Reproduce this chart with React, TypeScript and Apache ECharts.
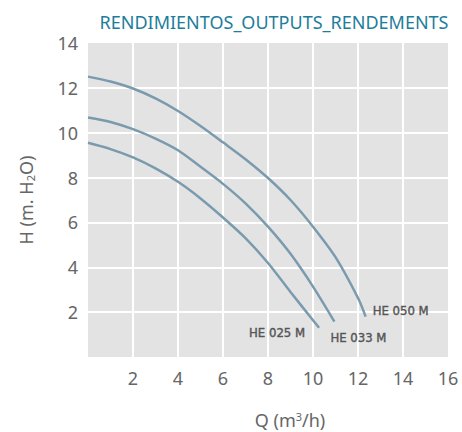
import React, { useEffect, useRef } from "react";
import * as echarts from "echarts";

const title = "RENDIMIENTOS_OUTPUTS_RENDEMENTS";
const xTicks = [0, 2, 4, 6, 8, 10, 12, 14, 16];
const yTicks = [0, 2, 4, 6, 8, 10, 12, 14];

const he050: [number, number][] = [
  [0, 12.5], [1, 12.28], [2, 11.97], [3, 11.53], [4, 10.97], [5, 10.3], [6, 9.57],
  [7, 8.82], [8, 7.98], [9, 7.0], [10, 5.81], [11, 4.45], [12, 2.63], [12.34, 1.8],
];
const he033: [number, number][] = [
  [0, 10.68], [1, 10.48], [2, 10.16], [3, 9.74], [4, 9.22], [5, 8.48], [6, 7.72],
  [7, 6.85], [8, 5.81], [9, 4.6], [10, 3.14], [10.95, 1.58],
];
const he025: [number, number][] = [
  [0, 9.55], [1, 9.27], [2, 8.9], [3, 8.41], [4, 7.81], [5, 7.07], [6, 6.22],
  [7, 5.3], [8, 4.19], [9, 2.9], [10, 1.64], [10.27, 1.3],
];
const seriesNames = ["HE 050 M", "HE 033 M", "HE 025 M"];

const LINE = "#7a9bad";
const LABEL_FONT = "'Liberation Sans Narrow', 'DejaVu Sans Condensed', Roboto, sans-serif";

export default function App() {
  const ref = useRef<HTMLDivElement>(null);
  useEffect(() => {
    if (!ref.current) return;
    const chart = echarts.init(ref.current, undefined, { renderer: "svg" });
    const fontFamily = "'Noto Sans', sans-serif";
    const mkSeries = (name: string, data: [number, number][], align: string, offset: number[]) => ({
      type: "line",
      name,
      data,
      smooth: 0.3,
      showSymbol: false,
      lineStyle: { color: LINE, width: 2.5 },
      z: 3,
      endLabel: {
        show: true,
        formatter: name,
        distance: 0,
        align,
        verticalAlign: "middle",
        offset,
        color: "#555",
        fontSize: 13,
        fontFamily: LABEL_FONT,
        textBorderColor: "#555",
        textBorderWidth: 0.4,
      },
    });
    chart.setOption({
      animation: false,
      backgroundColor: "#fff",
      title: {
        text: title,
        left: 269,
        textAlign: "center",
        top: 8,
        textStyle: { color: "#1e7d9b", fontSize: 18, fontWeight: "normal", fontFamily },
      },
      grid: {
        left: 88,
        right: 14,
        top: 43,
        bottom: 75,
        show: true,
        backgroundColor: "#e3e3e3",
        borderWidth: 0,
      },
      xAxis: {
        type: "value",
        min: xTicks[0],
        max: xTicks[xTicks.length - 1],
        interval: 2,
        axisLine: { show: false },
        axisTick: { show: false },
        axisLabel: {
          color: "#666",
          fontSize: 18,
          fontFamily,
          margin: 12,
          formatter: (v: number) => (v === 0 ? "" : String(v)),
        },
        splitLine: { show: true, showMinLine: false, showMaxLine: false, lineStyle: { color: "#fff", width: 2 } },
      },
      yAxis: {
        type: "value",
        min: yTicks[0],
        max: yTicks[yTicks.length - 1],
        interval: 2,
        axisLine: { show: false },
        axisTick: { show: false },
        axisLabel: {
          color: "#666",
          fontSize: 18,
          fontFamily,
          margin: 10,
          formatter: (v: number) => (v === 0 ? "" : String(v)),
        },
        splitLine: { show: true, showMinLine: false, showMaxLine: false, lineStyle: { color: "#fff", width: 2 } },
      },
      graphic: [
        {
          type: "text",
          x: 290,
          y: 420,
          style: {
            text: "Q (m{sup|3}/h)",
            textAlign: "center",
            textVerticalAlign: "middle",
            fill: "#666",
            fontSize: 18,
            fontFamily,
            rich: {
              sup: { fontSize: 11, verticalAlign: "top", padding: [0, 0, 8, 0], fill: "#666", fontFamily },
            },
          },
        },
        {
          type: "text",
          x: 26,
          y: 200,
          rotation: Math.PI / 2,
          style: {
            text: "H (m. H{sub|2}O)",
            textAlign: "center",
            textVerticalAlign: "middle",
            fill: "#666",
            fontSize: 18,
            fontFamily,
            rich: {
              sub: { fontSize: 11, padding: [8, 0, 0, 0], fill: "#666", fontFamily },
            },
          },
        },
      ],
      series: [
        mkSeries(seriesNames[0], he050, "left", [7, -6]),
        mkSeries(seriesNames[1], he033, "left", [-4, 16]),
        mkSeries(seriesNames[2], he025, "right", [-14, 5]),
      ],
    });
    return () => chart.dispose();
  }, []);
  return (
    <div
      ref={ref}
      style={{ position: "fixed", left: 0, top: 0, width: 462, height: 432 }}
    />
  );
}
